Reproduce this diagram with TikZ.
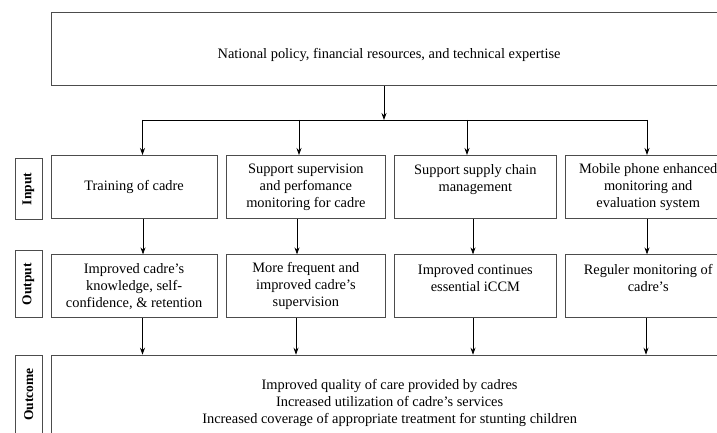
\documentclass[tikz,border=0pt]{standalone}
\usepackage{fontspec}
\setmainfont{Liberation Serif}
\usepackage{graphicx}
\usepackage{tikz}
\usetikzlibrary{positioning,arrows.meta}

\begin{document}
\begin{tikzpicture}[
    x=1pt, y=1pt,
    box/.style={rectangle, draw=black!70, line width=0.8pt, align=center, inner sep=2pt, font=\fontsize{14.4}{17}\selectfont},
    wbox/.style={box, minimum width=166pt, minimum height=63pt},
    nbox/.style={box, minimum width=160pt, minimum height=63pt},
    tag/.style={rectangle, draw=black!70, line width=0.8pt, minimum width=27pt, inner sep=0pt, font=\fontsize{13.5}{16}\selectfont\bfseries},
    arrow/.style={-{Stealth[length=7pt,width=5pt]}, line width=0.8pt}
]
\useasboundingbox (0,0) rectangle (717,-433);
\clip (0,0) rectangle (717,-433);

\node[box, anchor=north west, minimum width=676pt, minimum height=73pt, text height=22pt, text depth=3pt] (policy) at (50.7,-12.3) {National policy, financial resources, and technical expertise};

\node[wbox, anchor=north west] (train) at (50.7,-155) {Training of cadre};
\node[nbox, right=8.3pt of train, minimum width=159.3pt] (superv) {Support supervision\\and perfomance\\monitoring for cadre};
\node[nbox, right=8.3pt of superv, minimum width=161.5pt] (supply) {Support supply chain\\management\\~};
\node[wbox, right=8.3pt of supply] (mobile) {Mobile phone enhanced\\monitoring and\\evaluation system};

\node[wbox, below=35.6pt of train] (impr) {Improved cadre's\\knowledge, self-\\confidence, \& retention};
\node[nbox, below=35.6pt of superv, minimum width=159.3pt] (freq) {More frequent and\\improved cadre's\\supervision};
\node[nbox, below=35.6pt of supply, minimum width=161.5pt] (cont) {Improved continues\\essential iCCM\\~};
\node[wbox, below=35.6pt of mobile] (reg) {Reguler monitoring of\\cadre's\\~};

\node[box, below=36.5pt of impr.south west, anchor=north west, minimum width=677pt, minimum height=96pt] (outcome) {Improved quality of care provided by cadres\\Increased utilization of cadre's services\\Increased coverage of appropriate treatment for stunting children};

\node[tag, minimum height=61pt, left=8.4pt of train, yshift=-2pt] (inlbl) {\rotatebox{90}{Input}};
\node[tag, minimum height=67pt, left=8.4pt of impr, yshift=2pt] (outlbl) {\rotatebox{90}{Output}};
\node[tag, minimum height=79pt, left=8pt of outcome.north west, anchor=north east] (oclbl) {\rotatebox{90}{Outcome}};

\coordinate (hub) at (384,-120);
\coordinate (barL) at (142.5,-120);
\coordinate (barR) at (647,-120);
\draw[arrow] (policy.south -| hub) -- (hub);
\draw[line width=0.8pt] (barL) -- (barR);
\foreach \n/\x in {train/142.5, superv/299, supply/467, mobile/647}{
  \coordinate (drop) at (\x,-120);
  \draw[arrow] (drop) -- (drop |- \n.north);
}
\foreach \a/\b/\x in {train/impr/143, superv/freq/297, supply/cont/473, mobile/reg/647}{
  \coordinate (col) at (\x,0);
  \draw[arrow] (\a.south -| col) -- (\b.north -| col);
}
\foreach \a/\x in {impr/142.5, freq/296, cont/473, reg/646}{
  \coordinate (col) at (\x,0);
  \draw[arrow] (\a.south -| col) -- (outcome.north -| col);
}

\end{tikzpicture}
\end{document}
